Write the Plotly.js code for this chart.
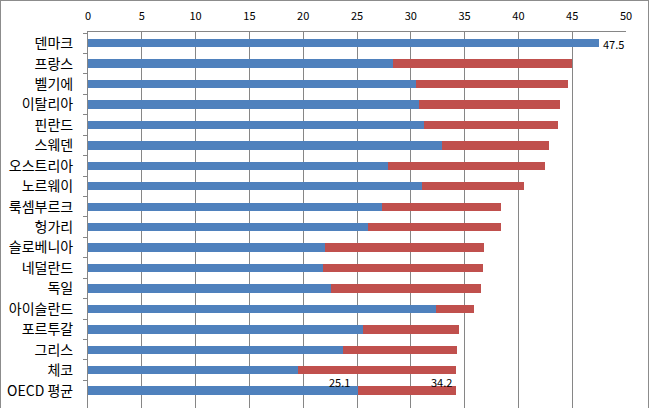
<!DOCTYPE html>
<html>
<head>
<meta charset="utf-8">
<script src="https://cdn.plot.ly/plotly-3.0.1.min.js"></script>
<style>
html,body{margin:0;padding:0;background:#fff;}
#chart{position:absolute;left:0;top:0;width:649px;height:408px;box-sizing:border-box;border:1px solid #8c8c8c;border-bottom:none;}
</style>
</head>
<body>
<div id="chart"></div>
<script>
const categories = ["덴마크","프랑스","벨기에","이탈리아","핀란드","스웨덴","오스트리아","노르웨이","룩셈부르크","헝가리","슬로베니아","네덜란드","독일","아이슬란드","포르투갈","그리스","체코","OECD 평균"];
const blueValues = [47.5,28.3,30.5,30.8,31.2,32.9,27.9,31.0,27.3,26.0,22.0,21.8,22.6,32.3,25.6,23.7,19.5,25.1];
const redValues  = [0,16.7,14.1,13.1,12.5,9.9,14.6,9.5,11.1,12.4,14.8,14.9,13.9,3.6,8.9,10.6,14.7,9.1];
const xTicks = [0,5,10,15,20,25,30,35,40,45,50];

const fontFam = '"Noto Sans CJK KR", "Noto Sans", sans-serif';
const lastIdx = categories.length - 1;
const oecdTotal = Math.round((blueValues[lastIdx] + redValues[lastIdx]) * 10) / 10;

const traces = [
  {type:'bar', orientation:'h', y:categories, x:blueValues, marker:{color:'#4F81BD'}, hoverinfo:'skip', name:'a'},
  {type:'bar', orientation:'h', y:categories, x:redValues, marker:{color:'#C0504D'}, hoverinfo:'skip', name:'b'}
];

const layout = {
  width:647, height:407,
  margin:{l:86.5, r:21.7, t:31, b:0, pad:0},
  barmode:'stack', bargap:0.59,
  showlegend:false,
  paper_bgcolor:'#fff', plot_bgcolor:'#fff',
  font:{family:fontFam, color:'#000'},
  xaxis:{
    side:'top', range:[0,50], tickvals:xTicks, ticktext:xTicks.map(String),
    showgrid:true, gridcolor:'#868686', gridwidth:1,
    showline:true, linecolor:'#868686', linewidth:1,
    zeroline:false, ticks:'', ticklabelstandoff:7,
    tickfont:{size:11, family:fontFam, color:'#000'}, fixedrange:true
  },
  yaxis:{
    type:'category', range:[17.85,-0.55],
    showgrid:false, showline:true, linecolor:'#868686', linewidth:1,
    ticks:'outside', ticklen:4, tickcolor:'#868686', tickson:'boundaries',
    ticklabelstandoff:11,
    tickfont:{size:14, family:fontFam, color:'#000'}, fixedrange:true
  },
  annotations:[
    {x:blueValues[0], y:categories[0], text:String(blueValues[0]), xanchor:'left', yanchor:'middle', showarrow:false, xshift:2, yshift:-1, font:{size:11, family:fontFam, color:'#000'}},
    {x:blueValues[lastIdx], y:categories[lastIdx], text:String(blueValues[lastIdx]), xanchor:'right', yanchor:'middle', showarrow:false, xshift:-6, yshift:9, font:{size:11, family:fontFam, color:'#000'}},
    {x:oecdTotal, y:categories[lastIdx], text:String(oecdTotal), xanchor:'right', yanchor:'middle', showarrow:false, xshift:-2, yshift:9, font:{size:11, family:fontFam, color:'#000'}}
  ]
};

Plotly.newPlot('chart', traces, layout, {displayModeBar:false, staticPlot:true});
</script>
</body>
</html>
